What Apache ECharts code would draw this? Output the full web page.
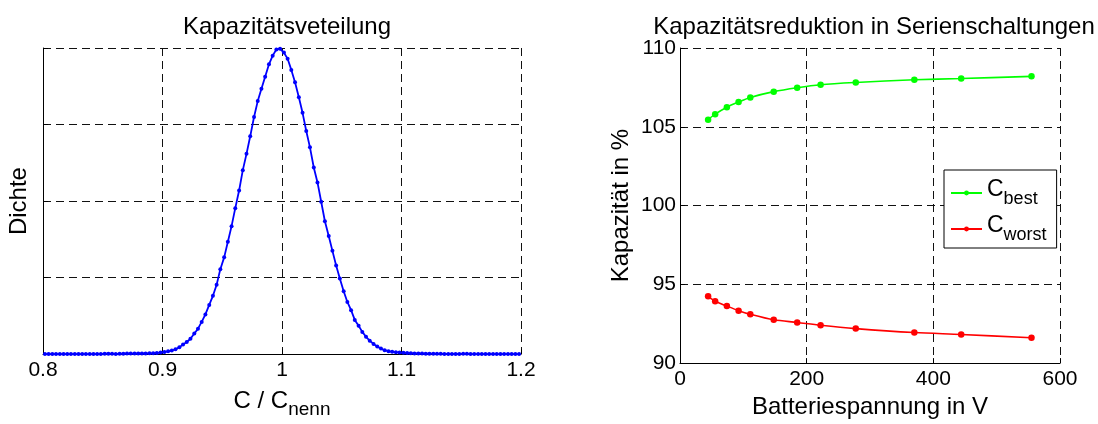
<!DOCTYPE html>
<html>
<head>
<meta charset="utf-8">
<script src="https://cdn.jsdelivr.net/npm/echarts@6/dist/echarts.min.js"></script>
<style>
  html, body { margin: 0; padding: 0; background: #fff; }
  #chart { width: 1098px; height: 424px; }
</style>
</head>
<body>
<div id="chart"></div>
<script>
// left plot: density of C / C_nenn
const ratioX = [
  0.8016, 0.8047, 0.8078, 0.8109, 0.8141, 0.8172, 0.8203, 0.8234, 0.8266, 0.8297,
  0.8328, 0.8359, 0.8391, 0.8422, 0.8453, 0.8484, 0.8516, 0.8547, 0.8578, 0.8609,
  0.8641, 0.8672, 0.8703, 0.8734, 0.8766, 0.8797, 0.8828, 0.8859, 0.8891, 0.8922,
  0.8953, 0.8984, 0.9016, 0.9047, 0.9078, 0.9109, 0.9141, 0.9172, 0.9203, 0.9234,
  0.9266, 0.9297, 0.9328, 0.9359, 0.9391, 0.9422, 0.9453, 0.9484, 0.9516, 0.9547,
  0.9578, 0.9609, 0.9641, 0.9672, 0.9703, 0.9734, 0.9766, 0.9797, 0.9828, 0.9859,
  0.9891, 0.9922, 0.9953, 0.9984, 1.0016, 1.0047, 1.0078, 1.0109, 1.0141, 1.0172,
  1.0203, 1.0234, 1.0266, 1.0297, 1.0328, 1.0359, 1.0391, 1.0422, 1.0453, 1.0484,
  1.0516, 1.0547, 1.0578, 1.0609, 1.0641, 1.0672, 1.0703, 1.0734, 1.0766, 1.0797,
  1.0828, 1.0859, 1.0891, 1.0922, 1.0953, 1.0984, 1.1016, 1.1047, 1.1078, 1.1109,
  1.1141, 1.1172, 1.1203, 1.1234, 1.1266, 1.1297, 1.1328, 1.1359, 1.1391, 1.1422,
  1.1453, 1.1484, 1.1516, 1.1547, 1.1578, 1.1609, 1.1641, 1.1672, 1.1703, 1.1734,
  1.1766, 1.1797, 1.1828, 1.1859, 1.1891, 1.1922, 1.1953, 1.1984
];
const density = [
  0, 0, 0, 0, 0, 0, 0, 0, 0, 0,
  0, 0, 0, 0, 0, 0, 0.005, 0.006, 0.003, 0.002,
  0.004, 0.006, 0.007, 0.007, 0.007, 0.008, 0.008, 0.009, 0.01, 0.012,
  0.015, 0.02, 0.026, 0.036, 0.047, 0.064, 0.089, 0.124, 0.158, 0.2,
  0.268, 0.332, 0.421, 0.519, 0.643, 0.762, 0.906, 1.11, 1.264, 1.468,
  1.672, 1.907, 2.137, 2.404, 2.617, 2.846, 3.098, 3.306, 3.468, 3.625,
  3.787, 3.9, 3.98, 3.99, 3.94, 3.86, 3.714, 3.553, 3.357, 3.153,
  2.915, 2.702, 2.438, 2.243, 1.991, 1.736, 1.544, 1.349, 1.158, 0.988,
  0.822, 0.681, 0.574, 0.447, 0.37, 0.29, 0.226, 0.175, 0.133, 0.098,
  0.073, 0.051, 0.038, 0.03, 0.025, 0.02, 0.017, 0.013, 0.011, 0.009,
  0.008, 0.007, 0.006, 0.006, 0.005, 0.004, 0.003, 0.002, 0.002, 0.001,
  0.001, 0.002, 0.004, 0.003, 0.001, 0, 0, 0, 0, 0,
  0, 0, 0, 0, 0, 0, 0, 0
];

// right plot: capacity vs battery voltage
const voltage = [44.4, 55.5, 74, 92.5, 111, 148, 185, 222, 277.5, 370, 444, 555];
const cBest = [105.45, 105.8, 106.24, 106.57, 106.86, 107.23, 107.48, 107.67, 107.81, 107.98, 108.06, 108.2];
const cWorst = [94.24, 93.93, 93.62, 93.33, 93.1, 92.75, 92.58, 92.4, 92.19, 91.94, 91.82, 91.61];

const FONT = "'Liberation Sans', Arial, sans-serif";
const grid = {
  show: true,
  lineStyle: { color: "#111", type: [8, 5], width: 1 },
};

const chart = echarts.init(document.getElementById("chart"));

const axisBase = {
  axisLine: { show: true, onZero: false, lineStyle: { color: "#000", width: 1 } },
  axisTick: { show: true, inside: true, length: 5, lineStyle: { color: "#000" } },
  axisLabel: { color: "#000", fontSize: 21, fontFamily: FONT, margin: 6 },
  splitLine: grid,
  nameLocation: "middle",
  nameTextStyle: { color: "#000", fontSize: 24, fontFamily: FONT },
};

chart.setOption({
  animation: false,
  textStyle: { fontFamily: FONT },
  title: [
    {
      text: "Kapazitätsveteilung",
      left: 282, top: 10, textAlign: "center",
      textStyle: { fontSize: 24, fontWeight: "normal", color: "#000", fontFamily: FONT },
    },
    {
      text: "Kapazitätsreduktion in Serienschaltungen",
      left: 869, top: 10, textAlign: "center",
      textStyle: { fontSize: 24, fontWeight: "normal", color: "#000", fontFamily: FONT },
    },
  ],
  grid: [
    { left: 43, right: 577, top: 48, bottom: 62 },
    { left: 680, right: 38, top: 48, bottom: 52 },
  ],
  legend: {
    data: ["C_best", "C_worst"],
    orient: "vertical",
    left: 944, top: 170,
    padding: [8, 10, 4, 6],
    itemGap: 6,
    itemWidth: 31,
    itemHeight: 6,
    backgroundColor: "#fff",
    borderColor: "#000",
    borderWidth: 1,
    borderRadius: 0,
    formatter: (n) => "{c|C}{s|" + n.slice(2) + "}",
    textStyle: {
      rich: {
        c: { fontSize: 23, color: "#000", fontFamily: FONT, verticalAlign: "top", lineHeight: 30 },
        s: { fontSize: 18, color: "#000", fontFamily: FONT, verticalAlign: "bottom", lineHeight: 30, padding: [12, 0, 0, 0] },
      },
    },
  },
  xAxis: [
    {
      ...axisBase,
      gridIndex: 0, type: "value", min: 0.8, max: 1.2, interval: 0.1,
      name: "{a|C / C}{b|nenn}", nameGap: 20,
      nameTextStyle: {
        rich: {
          a: { fontSize: 24, color: "#000", fontFamily: FONT, verticalAlign: "top", lineHeight: 30 },
          b: { fontSize: 19, color: "#000", fontFamily: FONT, verticalAlign: "bottom", lineHeight: 30, padding: [14, 0, 0, 0] },
        },
      },
    },
    {
      ...axisBase,
      gridIndex: 1, type: "value", min: 0, max: 600, interval: 200,
      name: "Batteriespannung in V", nameGap: 24,
    },
  ],
  yAxis: [
    {
      ...axisBase,
      gridIndex: 0, type: "value", min: 0, max: 4, interval: 1,
      axisLabel: { show: false },
      name: "Dichte", nameGap: 12,
    },
    {
      ...axisBase,
      gridIndex: 1, type: "value", min: 90, max: 110, interval: 5,
      axisLabel: { ...axisBase.axisLabel, margin: 4 },
      name: "Kapazität in %", nameGap: 47,
    },
  ],
  series: [
    {
      type: "line", name: "Dichte", xAxisIndex: 0, yAxisIndex: 0,
      data: ratioX.map((x, i) => [x, density[i]]),
      symbol: "circle", symbolSize: 4, showSymbol: true,
      lineStyle: { color: "#0000ff", width: 1.8 },
      itemStyle: { color: "#0000ff" },
    },
    {
      type: "line", name: "C_best", xAxisIndex: 1, yAxisIndex: 1,
      data: voltage.map((v, i) => [v, cBest[i]]),
      smooth: 0.3,
      symbol: "circle", symbolSize: 6.5,
      lineStyle: { color: "#00ff00", width: 1.6 },
      itemStyle: { color: "#00ff00" },
    },
    {
      type: "line", name: "C_worst", xAxisIndex: 1, yAxisIndex: 1,
      data: voltage.map((v, i) => [v, cWorst[i]]),
      smooth: 0.3,
      symbol: "circle", symbolSize: 6.5,
      lineStyle: { color: "#ff0000", width: 1.6 },
      itemStyle: { color: "#ff0000" },
    },
  ],
});
</script>
</body>
</html>
